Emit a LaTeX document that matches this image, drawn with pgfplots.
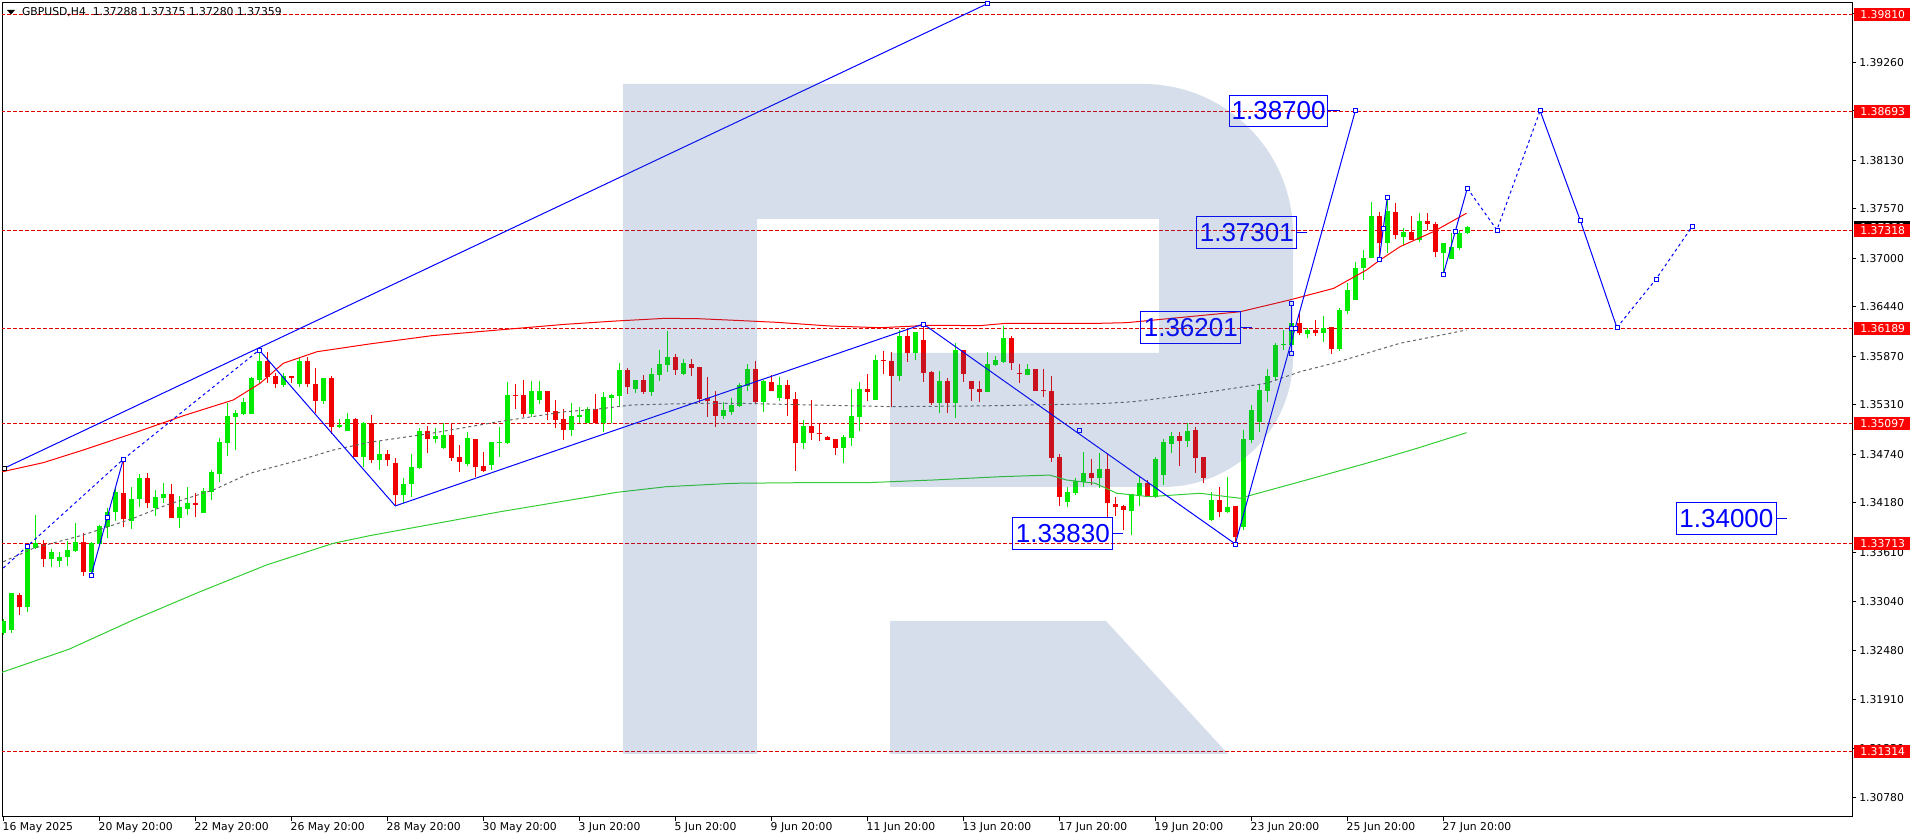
\documentclass[border=0pt]{standalone}
\usepackage{pgfplots}
\pgfplotsset{compat=1.18}
\usepackage{pgfplotstable}
\usepackage{fontspec}
\setmainfont{DejaVu Sans}
\newfontfamily\labfont{Liberation Sans}
\definecolor{cup}{RGB}{0,235,0}
\definecolor{cdn}{RGB}{240,0,0}
\definecolor{lvl}{RGB}{225,0,0}
\definecolor{mab}{RGB}{0,0,255}
\definecolor{mag}{RGB}{50,205,50}
\definecolor{magr}{RGB}{100,100,100}
\definecolor{logo}{RGB}{45,90,150}
\newcommand\sm{\fontsize{5.4pt}{6.5pt}\selectfont}
\newcommand\lab{\labfont\fontsize{13pt}{15pt}\selectfont}

\pgfplotstableread{
i o h l c
0 1.32682 1.32837 1.32655 1.32821
1 1.32713 1.33144 1.32682 1.33137
3 1.32982 1.33693 1.32924 1.33655
4 1.33662 1.34039 1.33644 1.33713
6 1.33536 1.33644 1.33444 1.33616
7 1.33513 1.33616 1.33444 1.33559
8 1.33552 1.33743 1.33452 1.33636
9 1.33628 1.33944 1.33616 1.33731
11 1.33385 1.33731 1.33347 1.33713
12 1.33705 1.33924 1.33693 1.33913
13 1.33905 1.34117 1.33771 1.34077
14 1.34077 1.34366 1.33974 1.34308
16 1.33974 1.34366 1.33882 1.34221
17 1.34221 1.34512 1.34136 1.34462
19 1.34117 1.34328 1.34028 1.34244
20 1.34232 1.34405 1.34175 1.34282
22 1.34008 1.34259 1.33893 1.34129
23 1.34109 1.34359 1.34039 1.34175
25 1.34066 1.34347 1.34059 1.34320
26 1.34308 1.34558 1.34213 1.34532
27 1.34512 1.34924 1.34423 1.34884
28 1.34873 1.35328 1.34720 1.35181
29 1.35173 1.35250 1.34789 1.35219
30 1.35204 1.35385 1.35192 1.35346
31 1.35204 1.35635 1.35204 1.35616
32 1.35596 1.35942 1.35565 1.35819
35 1.35538 1.35681 1.35519 1.35643
37 1.35550 1.35846 1.35519 1.35819
40 1.35358 1.35623 1.35320 1.35623
42 1.35058 1.35143 1.35039 1.35077
43 1.35008 1.35212 1.35008 1.35143
45 1.34712 1.35115 1.34597 1.35097
47 1.34674 1.34893 1.34558 1.34743
50 1.34270 1.34469 1.34175 1.34397
51 1.34393 1.34743 1.34251 1.34590
52 1.34585 1.35046 1.34570 1.35005
54 1.34916 1.35039 1.34866 1.34951
55 1.34815 1.35097 1.34800 1.34962
58 1.34628 1.34993 1.34608 1.34928
61 1.34616 1.34881 1.34558 1.34881
62 1.34869 1.35051 1.34712 1.34884
63 1.34866 1.35570 1.34858 1.35423
66 1.35204 1.35585 1.35173 1.35470
67 1.35366 1.35585 1.35320 1.35470
71 1.35020 1.35328 1.34954 1.35181
72 1.35173 1.35282 1.35097 1.35192
73 1.35097 1.35289 1.35097 1.35262
75 1.35097 1.35461 1.35000 1.35397
76 1.35392 1.35431 1.35097 1.35423
77 1.35412 1.35789 1.35289 1.35712
79 1.35492 1.35596 1.35450 1.35596
81 1.35461 1.35731 1.35412 1.35662
82 1.35654 1.35942 1.35585 1.35777
83 1.35769 1.36161 1.35692 1.35858
85 1.35666 1.35835 1.35654 1.35789
90 1.35184 1.35339 1.35146 1.35250
91 1.35230 1.35385 1.35192 1.35308
92 1.35300 1.35558 1.35289 1.35538
93 1.35530 1.35777 1.35473 1.35720
95 1.35346 1.35596 1.35230 1.35585
97 1.35392 1.35635 1.35358 1.35538
100 1.34866 1.35135 1.34797 1.35069
105 1.34815 1.34962 1.34636 1.34943
106 1.34931 1.35492 1.34838 1.35184
107 1.35173 1.35570 1.35012 1.35492
109 1.35366 1.35884 1.35366 1.35827
112 1.35643 1.36173 1.35588 1.36104
114 1.35904 1.36153 1.35827 1.36153
117 1.35335 1.35700 1.35212 1.35585
119 1.35335 1.36027 1.35154 1.35942
123 1.35461 1.35922 1.35461 1.35777
124 1.35769 1.35873 1.35758 1.35827
125 1.35807 1.36219 1.35796 1.36077
128 1.35654 1.35781 1.35654 1.35723
133 1.34193 1.34366 1.34129 1.34308
134 1.34297 1.34462 1.34270 1.34431
135 1.34423 1.34769 1.34366 1.34527
137 1.34462 1.34758 1.34347 1.34567
141 1.34086 1.34278 1.33809 1.34278
142 1.34270 1.34481 1.34144 1.34405
144 1.34251 1.34712 1.34239 1.34682
145 1.34500 1.34913 1.34385 1.34884
146 1.34854 1.35000 1.34751 1.34951
148 1.34896 1.35104 1.34820 1.35008
151 1.33982 1.34308 1.33970 1.34213
153 1.34077 1.34474 1.34059 1.34136
155 1.33905 1.35020 1.33867 1.34913
156 1.34904 1.35308 1.34866 1.35250
157 1.35115 1.35538 1.35000 1.35481
158 1.35473 1.35723 1.35346 1.35643
159 1.35635 1.36020 1.35588 1.36000
160 1.36000 1.36173 1.35942 1.36012
161 1.36000 1.36268 1.35981 1.36250
163 1.36123 1.36192 1.36077 1.36173
165 1.36142 1.36337 1.36038 1.36199
167 1.35950 1.36430 1.35934 1.36403
168 1.36392 1.36718 1.36353 1.36634
169 1.36519 1.36953 1.36519 1.36891
170 1.36884 1.37095 1.36749 1.37006
171 1.36999 1.37652 1.36999 1.37488
173 1.37173 1.37710 1.37057 1.37545
175 1.37242 1.37345 1.37153 1.37306
177 1.37211 1.37526 1.37191 1.37433
180 1.37057 1.37173 1.36815 1.37173
181 1.36988 1.37288 1.36988 1.37127
182 1.37115 1.37314 1.37095 1.37288
183 1.37288 1.37375 1.37280 1.37359
}\up

\pgfplotstableread{
i o h l c
2 1.33117 1.33137 1.32886 1.32982
5 1.33705 1.33751 1.33444 1.33536
10 1.33731 1.33829 1.33336 1.33385
15 1.34290 1.34682 1.33905 1.33990
18 1.34462 1.34520 1.34117 1.34182
21 1.34282 1.34397 1.34008 1.34008
24 1.34175 1.34297 1.34020 1.34159
33 1.35819 1.35922 1.35565 1.35635
34 1.35643 1.35674 1.35500 1.35546
36 1.35643 1.35643 1.35565 1.35623
38 1.35819 1.35858 1.35519 1.35546
39 1.35550 1.35738 1.35212 1.35358
41 1.35623 1.35643 1.34974 1.35058
44 1.35146 1.35161 1.34705 1.34712
46 1.35097 1.35192 1.34636 1.34674
48 1.34743 1.34789 1.34605 1.34674
49 1.34636 1.34700 1.34144 1.34270
53 1.35005 1.35066 1.34758 1.34916
56 1.34962 1.35097 1.34662 1.34700
57 1.34708 1.34846 1.34538 1.34651
59 1.34916 1.34916 1.34481 1.34593
60 1.34605 1.34762 1.34538 1.34547
64 1.35423 1.35546 1.35262 1.35412
65 1.35423 1.35596 1.35173 1.35204
68 1.35470 1.35470 1.35135 1.35230
69 1.35239 1.35366 1.35046 1.35135
70 1.35146 1.35259 1.34904 1.35020
74 1.35262 1.35431 1.35097 1.35097
78 1.35712 1.35731 1.35435 1.35519
80 1.35596 1.35654 1.35435 1.35461
84 1.35858 1.35896 1.35654 1.35712
86 1.35781 1.35835 1.35643 1.35738
87 1.35743 1.35743 1.35328 1.35374
88 1.35385 1.35628 1.35173 1.35358
89 1.35354 1.35473 1.35058 1.35184
94 1.35720 1.35819 1.35335 1.35346
96 1.35570 1.35654 1.35470 1.35473
98 1.35538 1.35596 1.35184 1.35374
99 1.35377 1.35455 1.34550 1.34866
101 1.35069 1.35366 1.34904 1.34982
102 1.34985 1.35097 1.34896 1.34974
103 1.34936 1.34954 1.34904 1.34904
104 1.34916 1.34916 1.34731 1.34815
108 1.35492 1.35666 1.35354 1.35461
110 1.35827 1.35931 1.35662 1.35812
111 1.35815 1.35922 1.35282 1.35646
113 1.36104 1.36173 1.35807 1.35904
115 1.36058 1.36242 1.35576 1.35681
116 1.35692 1.35704 1.35308 1.35335
118 1.35585 1.35616 1.35219 1.35335
120 1.35942 1.35942 1.35576 1.35666
121 1.35585 1.35585 1.35358 1.35489
122 1.35492 1.35588 1.35339 1.35461
126 1.36077 1.36104 1.35712 1.35789
127 1.35674 1.35777 1.35565 1.35662
129 1.35723 1.35723 1.35473 1.35473
130 1.35481 1.35723 1.35404 1.35466
131 1.35470 1.35643 1.34654 1.34700
132 1.34705 1.34743 1.34147 1.34251
136 1.34527 1.34685 1.34385 1.34462
138 1.34567 1.34758 1.34001 1.34182
139 1.34163 1.34251 1.34031 1.34136
140 1.34144 1.34155 1.33867 1.34097
143 1.34405 1.34443 1.34244 1.34251
147 1.34954 1.35000 1.34605 1.34896
149 1.35020 1.35051 1.34527 1.34693
150 1.34712 1.34712 1.34412 1.34462
152 1.34213 1.34366 1.34020 1.34077
154 1.34144 1.34144 1.33731 1.33790
162 1.36250 1.36365 1.36115 1.36135
164 1.36173 1.36288 1.36108 1.36142
166 1.36211 1.36211 1.35896 1.35950
172 1.37488 1.37537 1.37026 1.37173
174 1.37537 1.37634 1.37219 1.37268
176 1.37306 1.37488 1.37211 1.37211
178 1.37430 1.37526 1.37326 1.37395
179 1.37395 1.37421 1.37018 1.37069
}\dn

\begin{document}
\begin{tikzpicture}
\useasboundingbox (0,0) rectangle (958pt,420pt);
\begin{axis}[
  at={(1pt,418.65pt)}, anchor=north west,
  scale only axis, width=925.15pt, height=407pt,
  xmin=-0.1625, xmax=231.125, ymin=1.305606, ymax=1.399469,
  axis line style={line width=0.5pt, black},
  xtick pos=left, ytick pos=right, yticklabel pos=right,
  tick align=outside, major tick length=2pt,
  tick style={line width=0.5pt, black},
  xtick={0,12,...,180},
  xticklabels={16 May 2025,20 May 20:00,22 May 20:00,26 May 20:00,28 May 20:00,30 May 20:00,3 Jun 20:00,5 Jun 20:00,9 Jun 20:00,11 Jun 20:00,13 Jun 20:00,17 Jun 20:00,19 Jun 20:00,23 Jun 20:00,25 Jun 20:00,27 Jun 20:00},
  ytick={1.30780,1.31350,1.31910,1.32480,1.33040,1.33610,1.34180,1.34740,1.35310,1.35870,1.36440,1.37000,1.37570,1.38130,1.38700,1.39260,1.39820},
  yticklabels={1.30780,1.31350,1.31910,1.32480,1.33040,1.33610,1.34180,1.34740,1.35310,1.35870,1.36440,1.37000,1.37570,1.38130,1.38700,1.39260,1.39820},
  xticklabel style={font=\sm, anchor=north west, inner sep=0pt, xshift=-0.5pt, yshift=-0.6pt},
  yticklabel style={font=\sm, anchor=west, inner sep=0pt, xshift=1.3pt},
  clip=true,
]
% horizontal levels
\pgfplotsinvokeforeach{1.39810,1.38693,1.37318,1.36189,1.35097,1.33713,1.31314}{
  \addplot[lvl, line width=0.5pt, dash pattern=on 2pt off 1pt, forget plot] coordinates {(-1,#1) (232,#1)};
}
% candles: wicks and bodies
\addplot[draw=none, mark=none, forget plot, error bars/.cd, y dir=plus, y explicit, error mark=none,
  error bar style={line width=0.5pt, draw=cup, solid}]
  table[x=i, y=l, y error plus expr=\thisrow{h}-\thisrow{l}] {\up};
\addplot[draw=none, mark=none, forget plot, error bars/.cd, y dir=plus, y explicit, error mark=none,
  error bar style={line width=2.5pt, draw=cup, solid}]
  table[x=i, y=o, y error plus expr={max(\thisrow{c}-\thisrow{o},0.0001)}] {\up};
\addplot[draw=none, mark=none, forget plot, error bars/.cd, y dir=plus, y explicit, error mark=none,
  error bar style={line width=0.5pt, draw=cdn, solid}]
  table[x=i, y=l, y error plus expr=\thisrow{h}-\thisrow{l}] {\dn};
\addplot[draw=none, mark=none, forget plot, error bars/.cd, y dir=plus, y explicit, error mark=none,
  error bar style={line width=2.5pt, draw=cdn, solid}]
  table[x=i, y=c, y error plus expr={max(\thisrow{o}-\thisrow{c},0.0001)}] {\dn};
% moving averages
\addplot[red, line width=0.5pt] coordinates {(-0.41,1.34532) (5.0,1.34643) (10.0,1.34789) (16.25,1.34982) (22.5,1.35184) (28.75,1.35366) (32.1,1.35558) (35.0,1.35789) (39.2,1.35922) (45.8,1.36012) (53.55,1.36107) (61.9,1.36173) (70.2,1.36238) (76.5,1.36276) (82.7,1.36307) (86.9,1.36303) (91.5,1.36284) (96.7,1.36261) (103.3,1.36219) (109.6,1.36199) (115.8,1.36227) (122.1,1.36223) (125.4,1.36250) (137.1,1.36250) (140.4,1.36257) (154.6,1.36383) (160.8,1.36519) (166.3,1.36653) (170.4,1.36865) (172.1,1.36980) (174.6,1.37134) (178.75,1.37306) (182.9,1.37519)};
\addplot[magr, line width=0.5pt, dash pattern=on 1.5pt off 1.5pt] coordinates {(0,1.33501) (3.75,1.33655) (10,1.33809) (16.25,1.34001) (20.4,1.34155) (26.25,1.34328) (30.8,1.34520) (37.1,1.34674) (41.25,1.34789) (45.8,1.34878) (53.55,1.34982) (61.9,1.35115) (70.2,1.35230) (74.4,1.35262) (78.55,1.35308) (86.9,1.35328) (91.5,1.35328) (101.25,1.35308) (110.8,1.35289) (122.1,1.35297) (137.1,1.35323) (141.25,1.35346) (149.6,1.35442) (157.9,1.35558) (162.1,1.35692) (166.25,1.35789) (170.4,1.35904) (174.6,1.36020) (178.75,1.36096) (182.9,1.36173)};
\addplot[mag, line width=0.5pt] coordinates {(-0.41,1.32218) (8.2,1.32491) (16.25,1.32829) (24.6,1.33155) (32.9,1.33463) (41.25,1.33713) (45.8,1.33801) (62.1,1.34077) (76.7,1.34301) (82.9,1.34366) (91.25,1.34405) (99.6,1.34412) (107.9,1.34412) (116.25,1.34443) (124.6,1.34481) (130.8,1.34500) (132.9,1.34443) (136.5,1.34405) (139.2,1.34290) (143.3,1.34251) (149.6,1.34290) (154.6,1.34232) (156.05,1.34270) (162.1,1.34423) (170.4,1.34636) (176.7,1.34808) (182.9,1.34989)};
% channel line
\addplot[mab, line width=0.5pt] coordinates {(0.09,1.34578) (123,1.39935)};
% wave lines
\addplot[mab, line width=0.5pt, dash pattern=on 1.5pt off 1.5pt] coordinates {(0,1.33428) (15,1.34682) (32,1.35942)};
\addplot[mab, line width=0.5pt] coordinates {(11,1.33348) (15,1.34682)};
\addplot[mab, line width=0.5pt] coordinates {(32,1.35942) (49,1.34144) (115,1.36242) (154,1.33705) (169,1.38700)};
\addplot[mab, line width=0.5pt] coordinates {(161,1.35908) (161,1.36481)};
\addplot[mab, line width=0.5pt] coordinates {(161,1.36192) (161.5,1.36192)};
\addplot[mab, line width=0.5pt] coordinates {(172,1.36988) (173,1.37703)};
\addplot[mab, line width=0.5pt] coordinates {(180,1.36815) (183,1.37807)};
% forecast
\addplot[mab, line width=0.5pt, dash pattern=on 1.5pt off 1.5pt] coordinates {(183,1.37807) (186.7,1.37326) (192.1,1.38700)};
\addplot[mab, line width=0.5pt] coordinates {(192.1,1.38700) (197.1,1.37441) (201.7,1.36200)};
\addplot[mab, line width=0.5pt, dash pattern=on 1.5pt off 1.5pt] coordinates {(201.7,1.36200) (206.6,1.36761) (211.15,1.37372)};
% anchor squares
\addplot[only marks, mark=square*, mark size=1pt, mark options={fill=white, draw=mab, line width=0.4pt}] coordinates {
(3,1.33674) (11,1.33348) (13,1.34013) (15,1.34682) (32,1.35942) (115,1.36242) (134.5,1.35020) (154,1.33705)
(161,1.35908) (161,1.36481) (161,1.36192) (161.5,1.36192) (169,1.38700) (172,1.36988) (172.55,1.37346) (173,1.37703)
(180,1.36815) (181.5,1.37311) (183,1.37807) (186.7,1.37326) (192.1,1.38700) (197.1,1.37441) (201.7,1.36200) (206.6,1.36761) (211.15,1.37372) (123,1.39935)};
\addplot[only marks, mark=square*, mark size=1pt, mark options={fill=white, draw=black, line width=0.4pt}] coordinates {(0.09,1.34578)};
% price labels
\node[draw=mab, text=mab, font=\lab, line width=0.5pt, minimum width=49pt, minimum height=15.5pt, inner sep=0pt, anchor=east] at (axis cs:165.6,1.38700) {1.38700};
\draw[mab, line width=0.5pt] (axis cs:165.6,1.38700) -- (axis cs:167.1,1.38700);
\node[draw=mab, text=mab, font=\lab, line width=0.5pt, minimum width=50pt, minimum height=16pt, inner sep=0pt, anchor=east] at (axis cs:161.75,1.37301) {1.37301};
\draw[mab, line width=0.5pt] (axis cs:161.75,1.37301) -- (axis cs:163,1.37301);
\node[draw=mab, text=mab, font=\lab, line width=0.5pt, minimum width=50pt, minimum height=16pt, inner sep=0pt, anchor=east] at (axis cs:154.75,1.36201) {1.36201};
\draw[mab, line width=0.5pt] (axis cs:154.75,1.36201) -- (axis cs:156.05,1.36201);
\node[draw=mab, text=mab, font=\lab, line width=0.5pt, minimum width=50pt, minimum height=16pt, inner sep=0pt, anchor=east] at (axis cs:138.75,1.33830) {1.33830};
\draw[mab, line width=0.5pt] (axis cs:138.75,1.33830) -- (axis cs:140,1.33830);
\node[draw=mab, text=mab, font=\lab, line width=0.5pt, minimum width=50pt, minimum height=16pt, inner sep=0pt, anchor=east] at (axis cs:221.7,1.34000) {1.34000};
\draw[mab, line width=0.5pt] (axis cs:221.7,1.34000) -- (axis cs:222.9,1.34000);
\end{axis}
\begin{scope}[x=0.5pt, y=-0.5pt, yshift=420pt]
% logo overlay
\fill[logo, fill opacity=0.2] (623,84) -- (1143,84) arc[start angle=-90,end angle=0,radius=150] -- (1293,357) arc[start angle=0,end angle=90,radius=130] -- (890,487) -- (890,353) -- (1159,353) -- (1159,219) -- (757,219) -- (757,754) -- (623,754) -- cycle;
\fill[logo, fill opacity=0.2] (890,621) -- (1106,621) -- (1228,754) -- (890,754) -- cycle;
% title
\fill[black] (7,10) -- (15,10) -- (11,14.5) -- cycle;
\node[anchor=west, inner sep=0pt, font=\sm] at (21.7,12.3) {GBPUSD,H4\ \ 1.37288 1.37375 1.37280 1.37359};
% right price boxes
\fill[black] (1854,221) rectangle (1910,233);
\node[anchor=west, inner sep=0pt, font=\sm, text=white] at (1860,227.1) {1.37359};
\foreach \yy/\tt in {14.6/1.39810, 111.4/1.38693, 230.7/1.37318, 328.6/1.36189, 423.3/1.35097, 543.3/1.33713, 751.4/1.31314}{
  \fill[red] (1854,\yy-6.5) rectangle (1910,\yy+6.5);
  \node[anchor=west, inner sep=0pt, font=\sm, text=white] at (1860,\yy) {\tt};
}
\end{scope}
\end{tikzpicture}
\end{document}
